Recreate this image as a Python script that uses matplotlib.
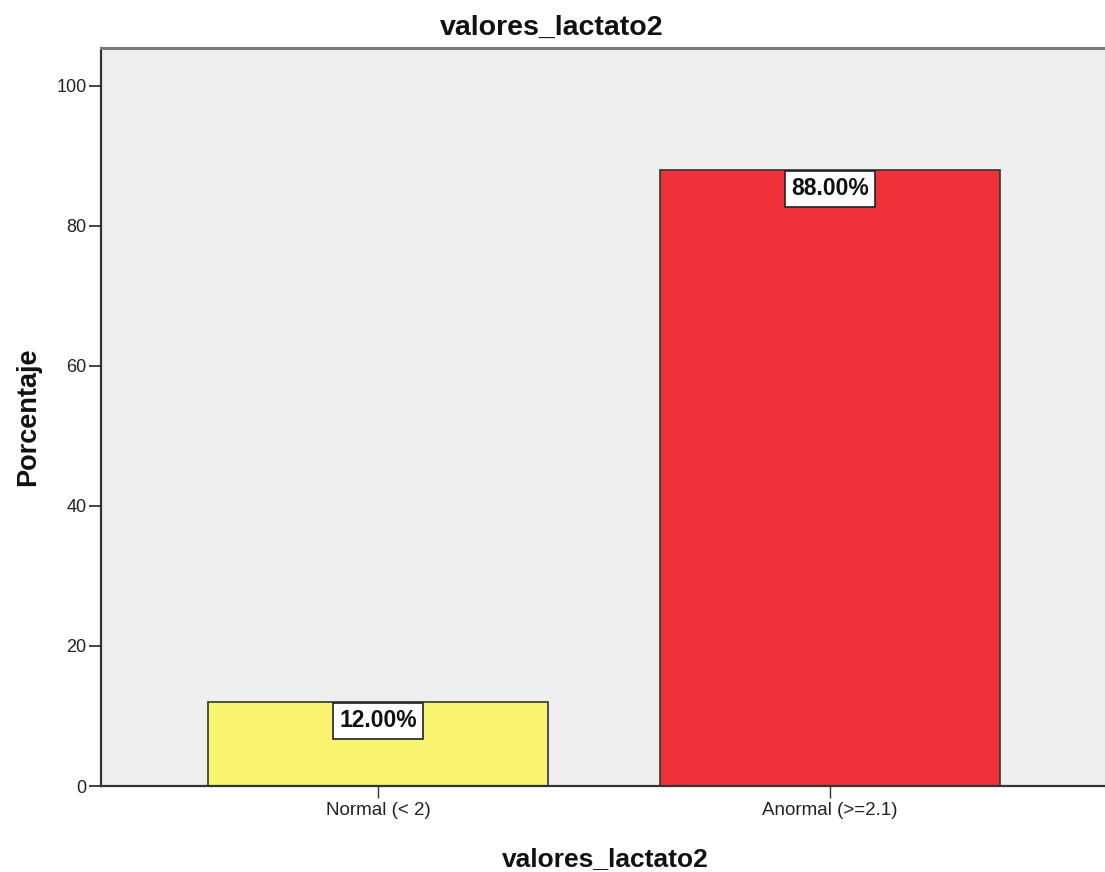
import matplotlib
matplotlib.use("Agg")
import matplotlib.pyplot as plt
from matplotlib import font_manager

categories = ["Normal (< 2)", "Anormal (>=2.1)"]
percentages = [12.00, 88.00]
bar_colors = ["#F9F570", "#EF3139"]
y_ticks = [0, 20, 40, 60, 80, 100]
title_text = "valores_lactato2"
x_label = "valores_lactato2"
y_label = "Porcentaje"

plt.rcParams["font.family"] = ["Liberation Sans", "DejaVu Sans"]

# Prefer a condensed face for the value labels when one is available
label_family = ["Liberation Sans", "DejaVu Sans"]
label_size = 16.5
for cand in ["Liberation Sans Narrow", "DejaVu Sans Condensed"]:
    try:
        font_manager.findfont(font_manager.FontProperties(family=cand),
                              fallback_to_default=False)
        label_family = [cand] + label_family
        label_size = 18
        break
    except ValueError:
        pass

fig = plt.figure(figsize=(11.05, 8.72), dpi=100)
ax = fig.add_axes([101 / 1105, 86 / 872, 1004 / 1105, 738 / 872])
ax.set_facecolor("#EFEFEF")

x = list(range(len(categories)))
ax.bar(x, percentages, width=0.752, color=bar_colors, edgecolor="#333333",
       linewidth=1.2, zorder=2)

ax.set_xlim(-0.613, 1.608)
ax.set_ylim(0, 105.4)
ax.set_yticks(y_ticks)
ax.set_xticks(x)
ax.set_xticklabels(categories)

ax.tick_params(axis="y", length=8.5, width=1.3, color="#333333",
               labelsize=13, pad=2, labelcolor="#222222")
ax.tick_params(axis="x", length=8.5, width=1.0, color="#333333",
               labelsize=13.5, pad=3, labelcolor="#222222")

for side in ["left", "bottom"]:
    ax.spines[side].set_color("#333333")
    ax.spines[side].set_linewidth(1.6)
ax.spines["top"].set_color("#7a7a7a")
ax.spines["top"].set_linewidth(2.2)
ax.spines["right"].set_visible(False)

for xi, val in zip(x, percentages):
    ax.annotate(f"{val:.2f}%", xy=(xi, val), xytext=(0, -5.3),
                textcoords="offset points", ha="center", va="top",
                fontsize=label_size, fontweight="bold", family=label_family,
                color="#111111", zorder=4,
                bbox=dict(boxstyle="square,pad=0.28", facecolor="white",
                          edgecolor="#222222", linewidth=1.2))

fig.text(552 / 1105, 1 - 28 / 872, title_text, ha="center", va="center",
         fontsize=20.5, fontweight="bold", color="#111111")
fig.text(605 / 1105, 1 - 859 / 872, x_label, ha="center", va="center",
         fontsize=19, fontweight="bold", color="#111111")
fig.text(28 / 1105, 1 - 417 / 872, y_label, ha="center", va="center",
         rotation=90, fontsize=19.5, fontweight="bold", color="#111111")

fig.savefig("out.png", dpi=100, facecolor="white")
